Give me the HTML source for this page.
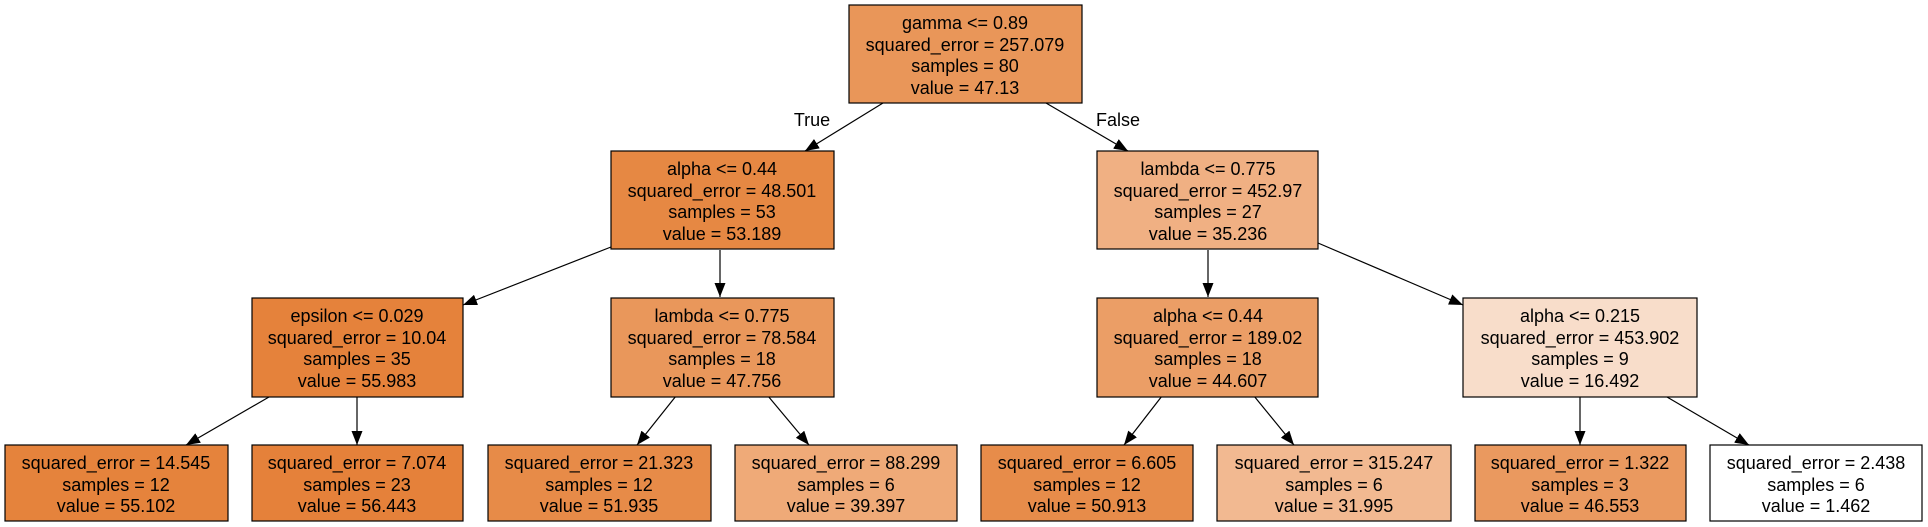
<!DOCTYPE html>
<html><head><meta charset="utf-8"><style>
html,body{margin:0;padding:0;background:#fff;}
svg{display:block;}
text{font-family:"Liberation Sans",Arial,sans-serif;font-size:18px;fill:#000;text-anchor:middle;}
rect{stroke:#000;stroke-width:1.2;}
line{stroke:#000;stroke-width:1.2;}
</style></head><body>
<svg width="1928" height="527" viewBox="0 0 1928 527" xmlns="http://www.w3.org/2000/svg">
<defs><marker id="a" markerWidth="14" markerHeight="11" refX="14" refY="5.5" orient="auto" markerUnits="userSpaceOnUse"><path d="M0,0 L14,5.5 L0,11 z" fill="#000"/></marker></defs>
<line x1="883" y1="103" x2="805" y2="151" marker-end="url(#a)"/>
<line x1="1046" y1="103" x2="1128" y2="151" marker-end="url(#a)"/>
<line x1="611" y1="247" x2="463" y2="305" marker-end="url(#a)"/>
<line x1="720" y1="250" x2="720" y2="297" marker-end="url(#a)"/>
<line x1="1208" y1="250" x2="1208" y2="297" marker-end="url(#a)"/>
<line x1="1318" y1="243" x2="1463" y2="305" marker-end="url(#a)"/>
<line x1="269" y1="397" x2="186" y2="445" marker-end="url(#a)"/>
<line x1="357" y1="397" x2="357" y2="445" marker-end="url(#a)"/>
<line x1="676" y1="396" x2="637" y2="445" marker-end="url(#a)"/>
<line x1="768" y1="396" x2="809" y2="445" marker-end="url(#a)"/>
<line x1="1162" y1="396" x2="1124" y2="445" marker-end="url(#a)"/>
<line x1="1254" y1="396" x2="1294" y2="445" marker-end="url(#a)"/>
<line x1="1580" y1="397" x2="1580" y2="445" marker-end="url(#a)"/>
<line x1="1667" y1="397" x2="1749" y2="445" marker-end="url(#a)"/>
<text x="812" y="126">True</text>
<text x="1118" y="126">False</text>
<rect x="849" y="5" width="233" height="98" fill="#e99659"/>
<text x="965" y="29">gamma &lt;= 0.89</text><text x="965" y="51">squared_error = 257.079</text><text x="965" y="72">samples = 80</text><text x="965" y="94">value = 47.13</text>
<rect x="611" y="151" width="223" height="98" fill="#e68843"/>
<text x="722" y="175">alpha &lt;= 0.44</text><text x="722" y="197">squared_error = 48.501</text><text x="722" y="218">samples = 53</text><text x="722" y="240">value = 53.189</text>
<rect x="1097" y="151" width="221" height="98" fill="#f0b083"/>
<text x="1208" y="175">lambda &lt;= 0.775</text><text x="1208" y="197">squared_error = 452.97</text><text x="1208" y="218">samples = 27</text><text x="1208" y="240">value = 35.236</text>
<rect x="252" y="298" width="211" height="99" fill="#e5823b"/>
<text x="357" y="322">epsilon &lt;= 0.029</text><text x="357" y="344">squared_error = 10.04</text><text x="357" y="365">samples = 35</text><text x="357" y="387">value = 55.983</text>
<rect x="611" y="298" width="223" height="99" fill="#e9975b"/>
<text x="722" y="322">lambda &lt;= 0.775</text><text x="722" y="344">squared_error = 78.584</text><text x="722" y="365">samples = 18</text><text x="722" y="387">value = 47.756</text>
<rect x="1097" y="298" width="221" height="99" fill="#eb9e66"/>
<text x="1208" y="322">alpha &lt;= 0.44</text><text x="1208" y="344">squared_error = 189.02</text><text x="1208" y="365">samples = 18</text><text x="1208" y="387">value = 44.607</text>
<rect x="1463" y="298" width="234" height="99" fill="#f8ddca"/>
<text x="1580" y="322">alpha &lt;= 0.215</text><text x="1580" y="344">squared_error = 453.902</text><text x="1580" y="365">samples = 9</text><text x="1580" y="387">value = 16.492</text>
<rect x="5" y="445" width="223" height="76" fill="#e5833c"/>
<text x="116" y="469">squared_error = 14.545</text><text x="116" y="491">samples = 12</text><text x="116" y="512">value = 55.102</text>
<rect x="252" y="445" width="211" height="76" fill="#e5813a"/>
<text x="357" y="469">squared_error = 7.074</text><text x="357" y="491">samples = 23</text><text x="357" y="512">value = 56.443</text>
<rect x="488" y="445" width="223" height="76" fill="#e78b48"/>
<text x="599" y="469">squared_error = 21.323</text><text x="599" y="491">samples = 12</text><text x="599" y="512">value = 51.935</text>
<rect x="735" y="445" width="222" height="76" fill="#efaa78"/>
<text x="846" y="469">squared_error = 88.299</text><text x="846" y="491">samples = 6</text><text x="846" y="512">value = 39.397</text>
<rect x="981" y="445" width="212" height="76" fill="#e78c4a"/>
<text x="1087" y="469">squared_error = 6.605</text><text x="1087" y="491">samples = 12</text><text x="1087" y="512">value = 50.913</text>
<rect x="1217" y="445" width="234" height="76" fill="#f2b991"/>
<text x="1334" y="469">squared_error = 315.247</text><text x="1334" y="491">samples = 6</text><text x="1334" y="512">value = 31.995</text>
<rect x="1475" y="445" width="211" height="76" fill="#ea995f"/>
<text x="1580" y="469">squared_error = 1.322</text><text x="1580" y="491">samples = 3</text><text x="1580" y="512">value = 46.553</text>
<rect x="1710" y="445" width="212" height="76" fill="#ffffff"/>
<text x="1816" y="469">squared_error = 2.438</text><text x="1816" y="491">samples = 6</text><text x="1816" y="512">value = 1.462</text>
</svg>
</body></html>
